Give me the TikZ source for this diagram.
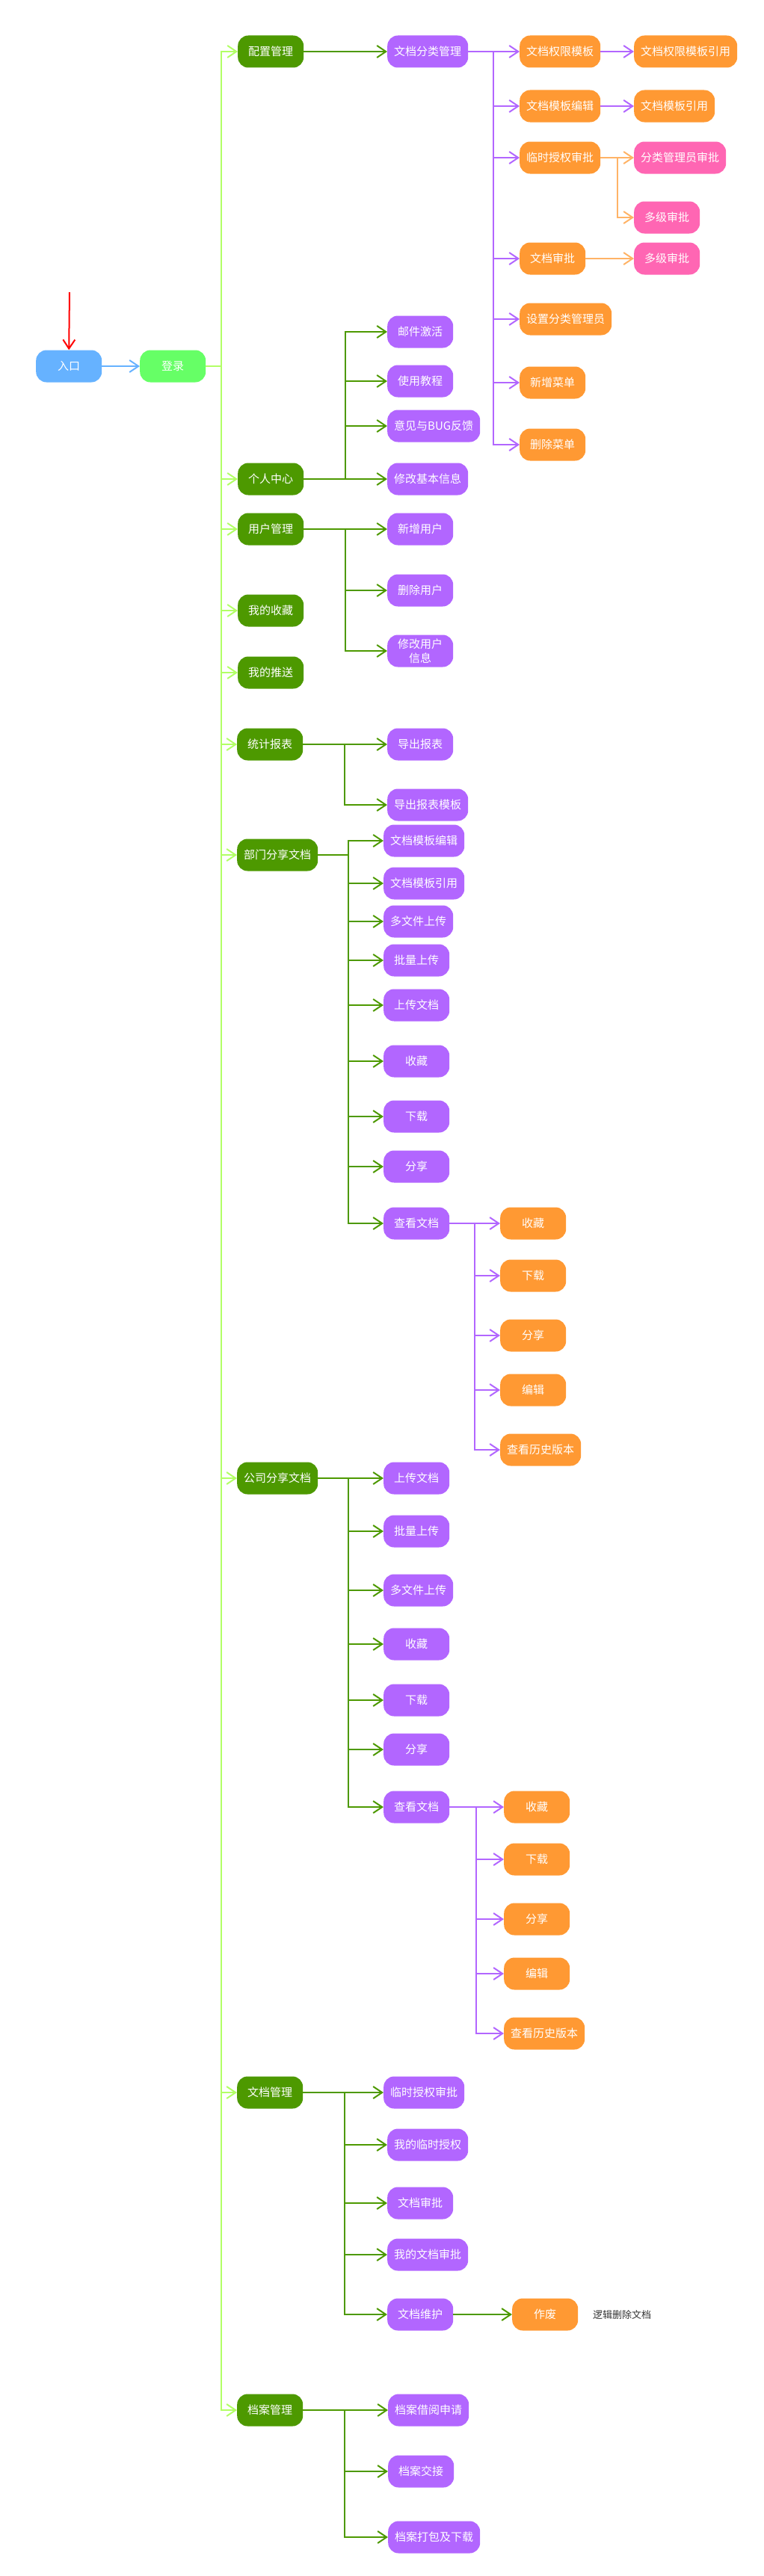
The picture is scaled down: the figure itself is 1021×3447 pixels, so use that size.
\documentclass[tikz,border=0pt]{standalone}
\usepackage{fontspec}
\setmainfont{Noto Sans CJK SC}
\usepackage{xcolor}
\usepackage{tikz}
\usetikzlibrary{arrows.meta}
\definecolor{entryblue}{RGB}{102,178,255}
\definecolor{loginlime}{RGB}{102,255,102}
\definecolor{trunklime}{RGB}{178,255,102}
\definecolor{menugreen}{RGB}{77,153,0}
\definecolor{funcpurple}{RGB}{178,102,255}
\definecolor{suborange}{RGB}{255,153,51}
\definecolor{approvpink}{RGB}{255,102,179}
\definecolor{lightorange}{RGB}{255,179,102}
\definecolor{notegray}{RGB}{51,51,51}

\begin{document}
\begin{tikzpicture}[
    x=1pt, y=-1pt,
    box/.style={rectangle, rounded corners=14pt, minimum width=88pt, minimum height=43pt, inner xsep=9pt, inner ysep=2pt, anchor=west, text=white, font=\fontsize{15}{19}\selectfont},
    entrybox/.style={box, fill=entryblue},
    loginbox/.style={box, fill=loginlime},
    menubox/.style={box, fill=menugreen},
    funcbox/.style={box, fill=funcpurple},
    subbox/.style={box, fill=suborange},
    apprbox/.style={box, fill=approvpink},
    arrow/.style={-{Straight Barb[length=12pt, width=16pt]}, line width=2pt}
]
\useasboundingbox (0,0) rectangle (1021,3447);

% Entry and login
\coordinate (start) at (93,391);
\node[entrybox] (entry) at (48,490) {入口};
\node[loginbox] (login) at (187,490) {登录};

% Main menus
\node[menubox] (cfg) at (318,69) {配置管理};
\node[menubox] (center) at (318,641) {个人中心};
\node[menubox] (usermgr) at (318,708) {用户管理};
\node[menubox] (fav) at (318,817) {我的收藏};
\node[menubox] (push) at (318,900) {我的推送};
\node[menubox] (report) at (317,996) {统计报表};
\node[menubox] (dept) at (317,1144) {部门分享文档};
\node[menubox] (comp) at (317,1978) {公司分享文档};
\node[menubox] (docmgr) at (317,2800) {文档管理};
\node[menubox] (arch) at (317,3225) {档案管理};

% Configuration
\node[funcbox] (classmgr) at (518,69) {文档分类管理};
\node[subbox] (permtpl) at (695,69) {文档权限模板};
\node[subbox] (tpledit) at (695,142) {文档模板编辑};
\node[subbox] (tmpauth) at (695,211) {临时授权审批};
\node[subbox] (catappr) at (695,346) {文档审批};
\node[subbox] (setadmin) at (695,427) {设置分类管理员};
\node[subbox] (addmenu) at (695,512) {新增菜单};
\node[subbox] (delmenu) at (695,595) {删除菜单};
\node[subbox] (permtplref) at (848,69) {文档权限模板引用};
\node[subbox] (tplref) at (848,142) {文档模板引用};
\node[apprbox] (adminappr) at (848,211) {分类管理员审批};
\node[apprbox] (multiappr) at (848,291) {多级审批};
\node[apprbox] (multiappr2) at (848,346) {多级审批};

% Personal center and users
\node[funcbox] (mailact) at (518,444) {邮件激活};
\node[funcbox] (tutorial) at (518,510) {使用教程};
\node[funcbox] (feedback) at (518,570) {意见与BUG反馈};
\node[funcbox] (editinfo) at (518,641) {修改基本信息};
\node[funcbox] (adduser) at (518,708) {新增用户};
\node[funcbox] (deluser) at (518,790) {删除用户};
\node[funcbox, align=center] (edituser) at (518,871) {修改用户\\信息};

% Reports
\node[funcbox] (exportrpt) at (518,996) {导出报表};
\node[funcbox] (exporttpl) at (518,1077) {导出报表模板};

% Department shared documents
\node[funcbox] (dtpledit) at (513,1125) {文档模板编辑};
\node[funcbox] (dtplref) at (513,1182) {文档模板引用};
\node[funcbox] (dmulti) at (513,1233) {多文件上传};
\node[funcbox] (dbatch) at (513,1285) {批量上传};
\node[funcbox] (dupload) at (513,1345) {上传文档};
\node[funcbox] (dfav) at (513,1420) {收藏};
\node[funcbox] (ddown) at (513,1494) {下载};
\node[funcbox] (dshare) at (513,1561) {分享};
\node[funcbox] (dview) at (513,1637) {查看文档};
\node[subbox] (dvfav) at (669,1637) {收藏};
\node[subbox] (dvdown) at (669,1707) {下载};
\node[subbox] (dvshare) at (669,1787) {分享};
\node[subbox] (dvedit) at (669,1860) {编辑};
\node[subbox] (dvhist) at (669,1940) {查看历史版本};

% Company shared documents
\node[funcbox] (cupload) at (513,1978) {上传文档};
\node[funcbox] (cbatch) at (513,2049) {批量上传};
\node[funcbox] (cmulti) at (513,2128) {多文件上传};
\node[funcbox] (cfav) at (513,2200) {收藏};
\node[funcbox] (cdown) at (513,2275) {下载};
\node[funcbox] (cshare) at (513,2341) {分享};
\node[funcbox] (cview) at (513,2418) {查看文档};
\node[subbox] (cvfav) at (674,2418) {收藏};
\node[subbox] (cvdown) at (674,2488) {下载};
\node[subbox] (cvshare) at (674,2568) {分享};
\node[subbox] (cvedit) at (674,2641) {编辑};
\node[subbox] (cvhist) at (674,2721) {查看历史版本};

% Document management
\node[funcbox] (tmpappr) at (513,2800) {临时授权审批};
\node[funcbox] (mytmp) at (518,2870) {我的临时授权};
\node[funcbox] (docappr) at (518,2948) {文档审批};
\node[funcbox] (mydocappr) at (518,3017) {我的文档审批};
\node[funcbox] (docmaint) at (518,3097) {文档维护};
\node[subbox] (abolish) at (685,3097) {作废};
\node[anchor=west, inner sep=0pt, text=notegray, font=\fontsize{13}{15}\selectfont] (delnote) at (793,3097) {逻辑删除文档};

% Archive management
\node[funcbox] (borrow) at (519,3225) {档案借阅申请};
\node[funcbox] (handover) at (519,3307) {档案交接};
\node[funcbox] (packdl) at (519,3395) {档案打包及下载};

% Arrows: entry
\draw[arrow, red] (start) -- (entry.north);
\draw[arrow, entryblue] (entry) -- (login);

% Arrows: login to main menus
\draw[arrow, trunklime] (login.east) -- ++(21,0) |- (cfg.west);
\draw[arrow, trunklime] (login.east) -- ++(21,0) |- (center.west);
\draw[arrow, trunklime] (login.east) -- ++(21,0) |- (usermgr.west);
\draw[arrow, trunklime] (login.east) -- ++(21,0) |- (fav.west);
\draw[arrow, trunklime] (login.east) -- ++(21,0) |- (push.west);
\draw[arrow, trunklime] (login.east) -- ++(21,0) |- (report.west);
\draw[arrow, trunklime] (login.east) -- ++(21,0) |- (dept.west);
\draw[arrow, trunklime] (login.east) -- ++(21,0) |- (comp.west);
\draw[arrow, trunklime] (login.east) -- ++(21,0) |- (docmgr.west);
\draw[arrow, trunklime] (login.east) -- ++(21,0) |- (arch.west);

% Arrows: configuration
\draw[arrow, menugreen] (cfg) -- (classmgr);
\draw[arrow, funcpurple] (classmgr.east) -- ++(34,0) |- (permtpl.west);
\draw[arrow, funcpurple] (classmgr.east) -- ++(34,0) |- (tpledit.west);
\draw[arrow, funcpurple] (classmgr.east) -- ++(34,0) |- (tmpauth.west);
\draw[arrow, funcpurple] (classmgr.east) -- ++(34,0) |- (catappr.west);
\draw[arrow, funcpurple] (classmgr.east) -- ++(34,0) |- (setadmin.west);
\draw[arrow, funcpurple] (classmgr.east) -- ++(34,0) |- (addmenu.west);
\draw[arrow, funcpurple] (classmgr.east) -- ++(34,0) |- (delmenu.west);
\draw[arrow, funcpurple] (permtpl) -- (permtplref);
\draw[arrow, funcpurple] (tpledit) -- (tplref);
\draw[arrow, lightorange] (tmpauth.east) -- ++(23,0) |- (adminappr.west);
\draw[arrow, lightorange] (tmpauth.east) -- ++(23,0) |- (multiappr.west);
\draw[arrow, lightorange] (catappr) -- (multiappr2);

% Arrows: personal center, users, reports
\draw[arrow, menugreen] (center.east) -- ++(56,0) |- (mailact.west);
\draw[arrow, menugreen] (center.east) -- ++(56,0) |- (tutorial.west);
\draw[arrow, menugreen] (center.east) -- ++(56,0) |- (feedback.west);
\draw[arrow, menugreen] (center.east) -- ++(56,0) |- (editinfo.west);
\draw[arrow, menugreen] (usermgr.east) -- ++(56,0) |- (adduser.west);
\draw[arrow, menugreen] (usermgr.east) -- ++(56,0) |- (deluser.west);
\draw[arrow, menugreen] (usermgr.east) -- ++(56,0) |- (edituser.west);
\draw[arrow, menugreen] (report.east) -- ++(56,0) |- (exportrpt.west);
\draw[arrow, menugreen] (report.east) -- ++(56,0) |- (exporttpl.west);

% Arrows: department shared documents
\draw[arrow, menugreen] (dept.east) -- ++(41,0) |- (dtpledit.west);
\draw[arrow, menugreen] (dept.east) -- ++(41,0) |- (dtplref.west);
\draw[arrow, menugreen] (dept.east) -- ++(41,0) |- (dmulti.west);
\draw[arrow, menugreen] (dept.east) -- ++(41,0) |- (dbatch.west);
\draw[arrow, menugreen] (dept.east) -- ++(41,0) |- (dupload.west);
\draw[arrow, menugreen] (dept.east) -- ++(41,0) |- (dfav.west);
\draw[arrow, menugreen] (dept.east) -- ++(41,0) |- (ddown.west);
\draw[arrow, menugreen] (dept.east) -- ++(41,0) |- (dshare.west);
\draw[arrow, menugreen] (dept.east) -- ++(41,0) |- (dview.west);
\draw[arrow, funcpurple] (dview.east) -- ++(34,0) |- (dvfav.west);
\draw[arrow, funcpurple] (dview.east) -- ++(34,0) |- (dvdown.west);
\draw[arrow, funcpurple] (dview.east) -- ++(34,0) |- (dvshare.west);
\draw[arrow, funcpurple] (dview.east) -- ++(34,0) |- (dvedit.west);
\draw[arrow, funcpurple] (dview.east) -- ++(34,0) |- (dvhist.west);

% Arrows: company shared documents
\draw[arrow, menugreen] (comp.east) -- ++(41,0) |- (cupload.west);
\draw[arrow, menugreen] (comp.east) -- ++(41,0) |- (cbatch.west);
\draw[arrow, menugreen] (comp.east) -- ++(41,0) |- (cmulti.west);
\draw[arrow, menugreen] (comp.east) -- ++(41,0) |- (cfav.west);
\draw[arrow, menugreen] (comp.east) -- ++(41,0) |- (cdown.west);
\draw[arrow, menugreen] (comp.east) -- ++(41,0) |- (cshare.west);
\draw[arrow, menugreen] (comp.east) -- ++(41,0) |- (cview.west);
\draw[arrow, funcpurple] (cview.east) -- ++(36,0) |- (cvfav.west);
\draw[arrow, funcpurple] (cview.east) -- ++(36,0) |- (cvdown.west);
\draw[arrow, funcpurple] (cview.east) -- ++(36,0) |- (cvshare.west);
\draw[arrow, funcpurple] (cview.east) -- ++(36,0) |- (cvedit.west);
\draw[arrow, funcpurple] (cview.east) -- ++(36,0) |- (cvhist.west);

% Arrows: document and archive management
\draw[arrow, menugreen] (docmgr.east) -- ++(56,0) |- (tmpappr.west);
\draw[arrow, menugreen] (docmgr.east) -- ++(56,0) |- (mytmp.west);
\draw[arrow, menugreen] (docmgr.east) -- ++(56,0) |- (docappr.west);
\draw[arrow, menugreen] (docmgr.east) -- ++(56,0) |- (mydocappr.west);
\draw[arrow, menugreen] (docmgr.east) -- ++(56,0) |- (docmaint.west);
\draw[arrow, menugreen] (docmaint) -- (abolish);
\draw[arrow, menugreen] (arch.east) -- ++(56,0) |- (borrow.west);
\draw[arrow, menugreen] (arch.east) -- ++(56,0) |- (handover.west);
\draw[arrow, menugreen] (arch.east) -- ++(56,0) |- (packdl.west);

\end{tikzpicture}
\end{document}
